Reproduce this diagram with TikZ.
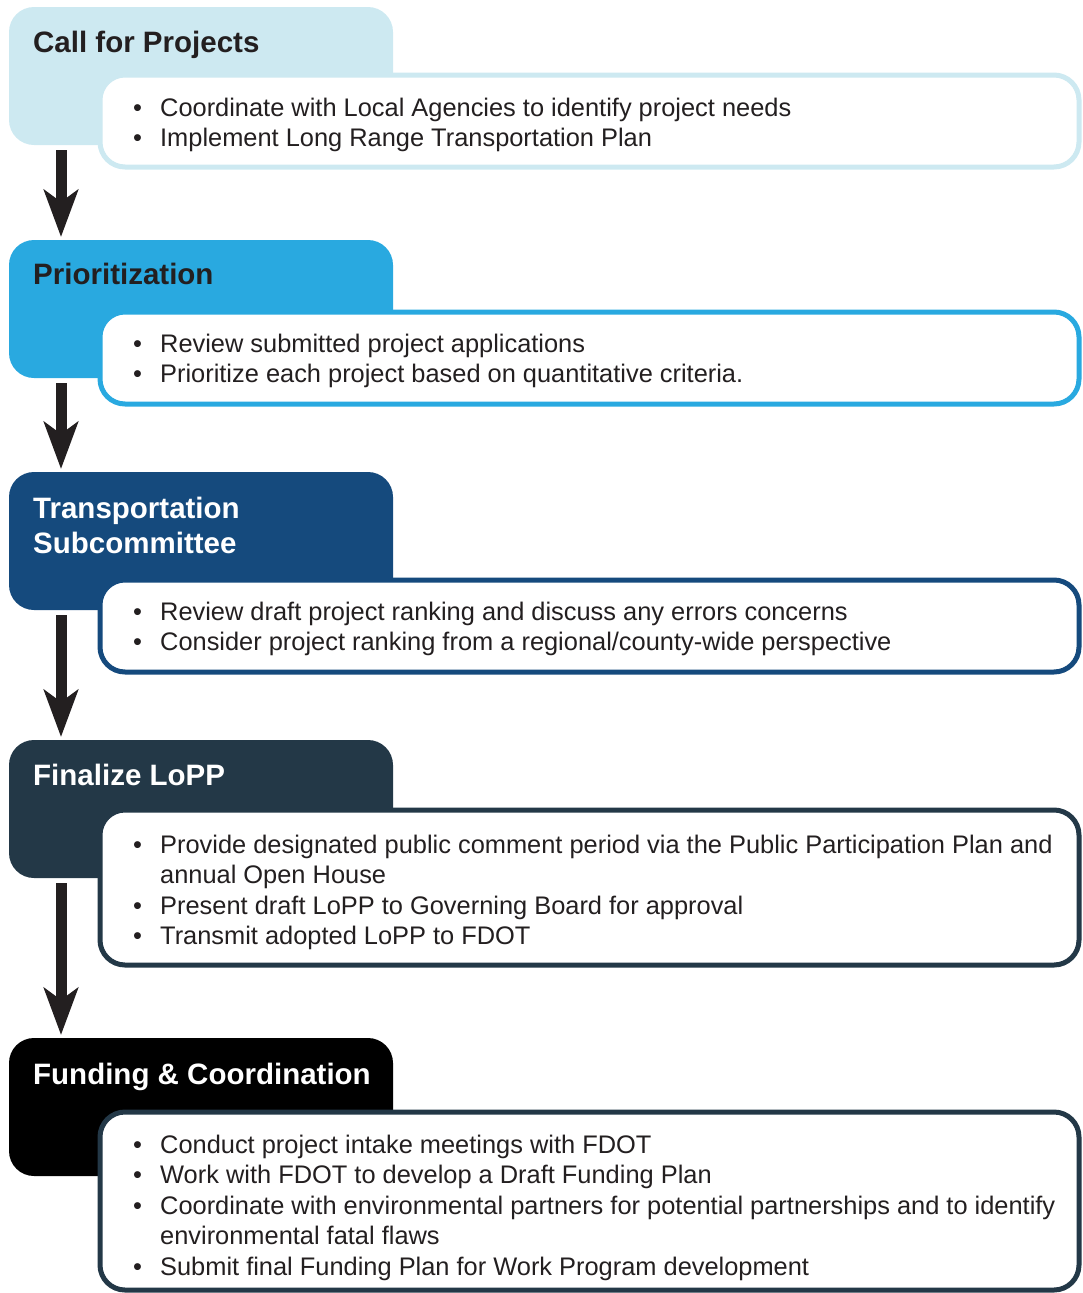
\documentclass[tikz,border=0pt]{standalone}
\usepackage{fontspec}
\setmainfont{Liberation Sans}
\usetikzlibrary{arrows.meta,positioning}
\usepackage{xcolor}
\definecolor{callblue}{HTML}{CDE9F1}
\definecolor{prioblue}{HTML}{29A9E0}
\definecolor{subblue}{HTML}{154A7D}
\definecolor{loppslate}{HTML}{233847}
\definecolor{inkdark}{HTML}{231F20}
\newcommand{\itembul}{\makebox[27pt][l]{\textbullet}}
\newcommand{\itemgap}{\hspace*{27pt}}

\begin{document}
\begin{tikzpicture}[x=1pt,y=-1pt,
  tab/.style={anchor=north west,inner sep=0,outer sep=0,minimum width=384pt,minimum height=138pt,rounded corners=25pt},
  panel/.style={anchor=north west,inner sep=0,outer sep=0,minimum width=979pt,fill=white,line width=5pt,rounded corners=25pt},
  heading/.style={anchor=base west,inner sep=0,align=left,font=\fontsize{29.5}{35}\selectfont\bfseries},
  bullets/.style={anchor=base west,inner sep=0,align=left,text=inkdark,font=\fontsize{25.4}{30.5}\selectfont},
  flow/.style={line width=11pt,draw=inkdark,-{Stealth[length=47pt,width=34pt,inset=12pt]}}]
  \useasboundingbox (0,0) rectangle (1082,1293);
  \clip (0,0) rectangle (1082,1293);

  % Call for Projects (text nodes sit on the baseline of their last line)
  \node[tab,fill=callblue] (cfp) at (9,7) {};
  \node[panel,draw=callblue,minimum height=92pt] (cfpbox) at (100,75) {};
  \node[heading,text=inkdark] (cfptitle) at (33,52) {Call for Projects};
  \node[bullets] (cfptext) at (133,146.5) {\itembul Coordinate with Local Agencies to identify project needs\\
    \itembul Implement Long Range Transportation Plan};

  % Prioritization
  \node[tab,fill=prioblue] (prio) at (9,240) {};
  \node[panel,draw=prioblue,minimum height=92pt] (priobox) at (100,312) {};
  \node[heading,text=inkdark] (priotitle) at (33,284) {Prioritization};
  \node[bullets] (priotext) at (133,382.5) {\itembul Review submitted project applications\\
    \itembul Prioritize each project based on quantitative criteria.};

  % Transportation Subcommittee
  \node[tab,fill=subblue] (tsc) at (9,472) {};
  \node[panel,draw=subblue,minimum height=92pt] (tscbox) at (100,580) {};
  \node[heading,text=white] (tsctitle) at (33,553) {Transportation\\Subcommittee};
  \node[bullets] (tsctext) at (133,650.5) {\itembul Review draft project ranking and discuss any errors concerns\\
    \itembul Consider project ranking from a regional/county-wide perspective};

  % Finalize LoPP
  \node[tab,fill=loppslate] (lopp) at (9,740) {};
  \node[panel,draw=loppslate,minimum height=155pt] (loppbox) at (100,810) {};
  \node[heading,text=white] (lopptitle) at (33,785) {Finalize LoPP};
  \node[bullets] (lopptext) at (133,944.5) {\itembul Provide designated public comment period via the Public Participation Plan and\\
    \itemgap annual Open House\\
    \itembul Present draft LoPP to Governing Board for approval\\
    \itembul Transmit adopted LoPP to FDOT};

  % Funding & Coordination
  \node[tab,fill=black] (fund) at (9,1038) {};
  \node[panel,draw=loppslate,minimum height=178pt] (fundbox) at (100,1112) {};
  \node[heading,text=white] (fundtitle) at (33,1084) {Funding \& Coordination};
  \node[bullets] (fundtext) at (133,1275) {\itembul Conduct project intake meetings with FDOT\\
    \itembul Work with FDOT to develop a Draft Funding Plan\\
    \itembul Coordinate with environmental partners for potential partnerships and to identify\\
    \itemgap environmental fatal flaws\\
    \itembul Submit final Funding Plan for Work Program development};

  % arrows between stages
  \foreach \from/\to in {cfp/prio,prio/tsc,tsc/lopp,lopp/fund}
    \draw[flow] ([xshift=52pt,yshift=-5pt]\from.south west) -- ([xshift=52pt,yshift=3pt]\to.north west);
\end{tikzpicture}
\end{document}
